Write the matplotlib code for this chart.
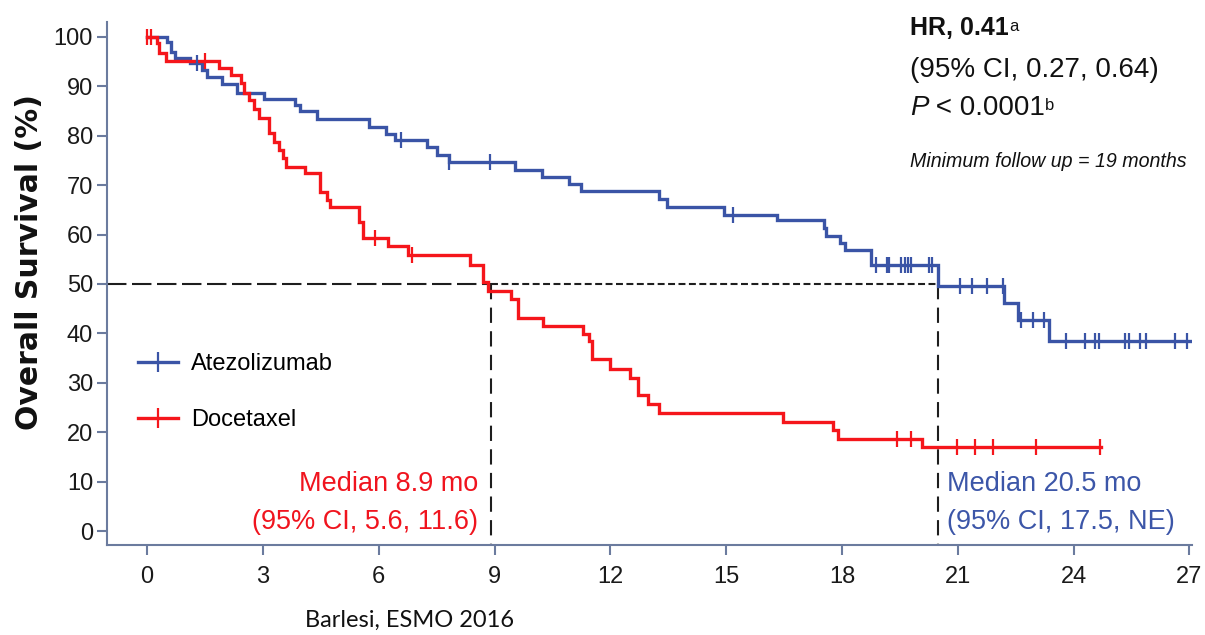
import numpy as np
import matplotlib
matplotlib.use("Agg")
import matplotlib.pyplot as plt
from matplotlib.lines import Line2D

plt.rcParams['font.family'] = ['Liberation Sans', 'DejaVu Sans']
plt.rcParams['lines.scale_dashes'] = False

# Kaplan-Meier step data: event times (months) and survival (%) after each drop
atezo_t = [0, 0.52, 0.62, 0.73, 1.12, 1.42, 1.55, 1.94, 2.33, 3.02, 3.84, 3.97, 4.41,
           5.75, 6.18, 6.43, 7.25, 7.52, 7.83, 9.54, 10.23, 10.92, 11.25, 13.25, 13.46,
           14.94, 16.31, 17.54, 17.60, 17.96, 18.09, 18.75, 20.48, 22.20, 22.55, 23.37]
atezo_s = [100, 98.9, 97.0, 95.7, 94.7, 93.3, 91.8, 90.5, 88.6, 87.4, 86.2, 84.9, 83.4,
           81.8, 80.4, 79.2, 77.7, 76.1, 74.6, 73.1, 71.7, 70.2, 68.9, 67.1, 65.6,
           64.0, 63.0, 61.3, 59.7, 58.2, 56.9, 53.8, 49.5, 46.1, 42.7, 38.5]
atezo_end = 27.04
atezo_cens = [1.29, 6.57, 7.83, 8.87, 15.19, 18.88, 19.17, 19.23, 19.54, 19.64, 19.71,
              19.80, 20.25, 20.34, 21.07, 21.36, 21.75, 22.18, 22.64, 22.94, 23.24, 23.80,
              24.30, 24.56, 24.65, 25.34, 25.43, 25.72, 25.88, 26.64, 26.94]

doce_t = [0, 0.25, 0.32, 0.49, 1.85, 2.16, 2.42, 2.50, 2.63, 2.76, 2.89, 3.15, 3.28,
          3.41, 3.52, 3.61, 4.10, 4.49, 4.65, 4.75, 5.49, 5.60, 6.23, 6.75, 8.37, 8.69,
          8.83, 9.43, 9.60, 10.25, 11.29, 11.46, 11.52, 12.00, 12.50, 12.72, 12.97,
          13.27, 16.48, 17.78, 17.90, 20.08]
doce_s = [100, 98.7, 96.8, 95.2, 93.6, 92.3, 90.6, 88.7, 87.2, 85.4, 83.5, 80.5, 78.8,
          77.1, 75.4, 73.7, 72.4, 68.7, 67.0, 65.6, 62.5, 59.2, 57.6, 55.9, 53.8, 50.3,
          48.6, 46.9, 43.2, 41.5, 39.8, 38.5, 34.8, 32.7, 30.9, 27.5, 25.8,
          23.9, 22.1, 20.4, 18.7, 17.1]
doce_end = 24.72
doce_cens = [0.0, 0.1, 1.51, 5.90, 6.85, 19.43, 19.80, 20.99, 21.45, 21.91, 23.02, 24.69]

median_atezo = 20.5
median_doce = 8.9

x_ticks = [0, 3, 6, 9, 12, 15, 18, 21, 24, 27]
y_ticks = [0, 10, 20, 30, 40, 50, 60, 70, 80, 90, 100]

BLUE = '#3a54a6'
RED = '#f5161b'
BLUE_TXT = '#3c56a8'
RED_TXT = '#f0141e'
AXIS = '#6b7b9e'
DASH = '#1e1e1e'
INK = '#111111'

fig = plt.figure(figsize=(12.05, 6.35), dpi=100)
ax = fig.add_axes([107 / 1205, 1 - 545 / 635, (1192 - 107) / 1205, (545 - 22) / 635])


def km_curve(t, s, end, cens, color, label):
    xs = list(t) + [end]
    ys = list(s) + [s[-1]]
    ax.step(xs, ys, where='post', color=color, lw=2.4, solid_joinstyle='miter', zorder=3)
    idx = np.searchsorted(np.array(t), np.array(cens), side='right') - 1
    cy = np.array(s)[idx]
    ax.plot(cens, cy, ls='none', marker='|', ms=11, mew=1.6, color=color, zorder=4)
    return Line2D([], [], color=color, lw=2.4, marker='|', ms=14, mew=1.6, label=label)


h1 = km_curve(atezo_t, atezo_s, atezo_end, atezo_cens, BLUE, 'Atezolizumab')
h2 = km_curve(doce_t, doce_s, doce_end, doce_cens, RED, 'Docetaxel')

# median reference lines
xmin = -1.04
ybot = -2.83
ax.plot([xmin, median_doce], [50, 50], color=DASH, lw=1.5, dashes=(14, 4), zorder=2)
ax.plot([median_doce, median_atezo], [50, 50], color=DASH, lw=1.5, dashes=(5, 2.5), zorder=2)
ax.plot([median_doce, median_doce], [50, ybot], color=DASH, lw=1.5, dashes=(11, 6), zorder=2)
ax.plot([median_atezo, median_atezo], [50, ybot], color=DASH, lw=1.5, dashes=(11, 6), zorder=2)

ax.set_xlim(xmin, 27.07)
ax.set_ylim(ybot, 103)
ax.set_xticks(x_ticks)
ax.set_yticks(y_ticks)
for sp in ['top', 'right']:
    ax.spines[sp].set_visible(False)
for sp in ['left', 'bottom']:
    ax.spines[sp].set_color(AXIS)
    ax.spines[sp].set_linewidth(1.5)
ax.tick_params(axis='both', colors=AXIS, length=7, width=1.5, labelcolor='#1a1a1a',
               labelsize=17)
ax.tick_params(axis='y', pad=3)
ax.tick_params(axis='x', pad=8)

fig.text(30 / 1205, 1 - 262 / 635, 'Overall Survival (%)', rotation=90, ha='center',
         va='center', fontsize=21.5, fontweight='bold', family='DejaVu Sans', color=INK)

# median annotations
ax.text(8.57, 8.0, 'Median 8.9 mo', color=RED_TXT, fontsize=19.5, ha='right', va='baseline')
ax.text(8.57, 0.5, '(95% CI, 5.6, 11.6)', color=RED_TXT, fontsize=19.5, ha='right', va='baseline')
ax.text(20.72, 8.0, 'Median 20.5 mo', color=BLUE_TXT, fontsize=19.5, ha='left', va='baseline')
ax.text(20.72, 0.5, '(95% CI, 17.5, NE)', color=BLUE_TXT, fontsize=19.5, ha='left', va='baseline')

# legend
ax.legend(handles=[h1, h2], loc='upper left', bbox_to_anchor=(0.02, 0.385), frameon=False,
          fontsize=17, handlelength=1.7, handletextpad=0.55, labelspacing=1.45,
          borderaxespad=0)


# statistics block
def ftext(px, py, s, **kw):
    return fig.text(px / 1205, 1 - py / 635, s, va='baseline', ha='left', color=INK, **kw)


hr = ftext(910, 35, 'HR, 0.41', fontsize=18, fontweight='bold')
ax.annotate('a', xy=(1, 1), xycoords=hr, xytext=(0, -2), textcoords='offset points',
            ha='left', va='top', fontsize=12, color=INK)
ftext(910, 77, '(95% CI, 0.27, 0.64)', fontsize=20)
p = ftext(910, 115, 'P', fontsize=20, style='italic')
rest = ax.annotate(' < 0.0001', xy=(1, 0), xycoords=p, xytext=(0, 0), textcoords='offset points',
                   ha='left', va='bottom', fontsize=20, color=INK)
ax.annotate('b', xy=(1, 1), xycoords=rest, xytext=(0, -2), textcoords='offset points',
            ha='left', va='top', fontsize=12, color=INK)
ftext(910, 167, 'Minimum follow up = 19 months', fontsize=14.1, style='italic')

fig.text(305 / 1205, 1 - 627 / 635, 'Barlesi, ESMO 2016', fontsize=17, family='Lato',
         color=INK, va='baseline', ha='left')

fig.savefig('out.png', dpi=100)
